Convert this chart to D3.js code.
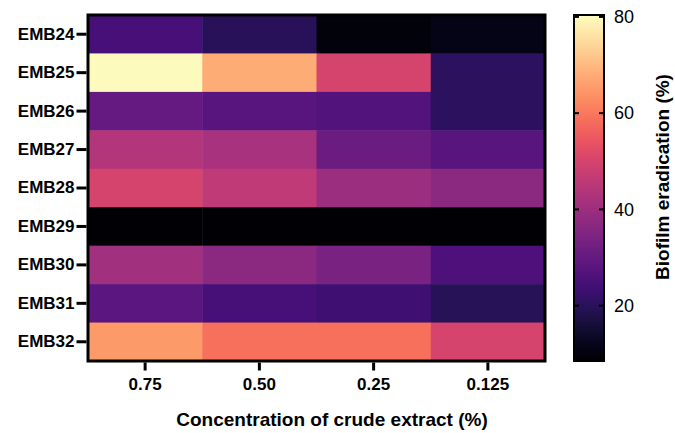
<!DOCTYPE html>
<html>
<head>
    <meta charset="UTF-8">
    <script src="https://d3js.org/d3.v7.min.js"></script>
    <style>
        body { margin: 0; background: #fff; }
        text { font-family: "Liberation Sans", Arial, sans-serif; }
        .axis-y text, .axis-x text { font-size: 17px; font-weight: bold; }
        .cbar text { font-size: 18px; }
    </style>
</head>
<body>
    <svg id="chart" width="675" height="433"></svg>

    <script>
        // data
        const strains = ["EMB24", "EMB25", "EMB26", "EMB27", "EMB28", "EMB29", "EMB30", "EMB31", "EMB32"]
        const concentrations = ["0.75", "0.50", "0.25", "0.125"]
        const eradication = [
            [25, 20, 10, 11.5],
            [80, 68, 50, 20.5],
            [30, 28, 27, 20.5],
            [44, 42, 31, 28],
            [50, 46, 40, 37],
            [9, 9, 9, 9],
            [41, 37, 34, 26],
            [28.5, 25, 23.5, 19.5],
            [65, 59, 59, 50]
        ]
        const colorTicks = [20, 40, 60, 80]
        const colorDomain = [8.5, 80.4]

        let svg = d3.select("#chart")

        let margin = {top: 15, left: 88},
            width = 457,
            height = 346

        let chart = svg.append("g")
            .attr("transform", "translate(" + margin.left + "," + margin.top + ")")

        let xScale = d3.scaleBand()
            .domain(concentrations)
            .range([0, width])
        let yScale = d3.scaleBand()
            .domain(strains)
            .range([0, height])
        let color = d3.scaleSequential(d3.interpolateMagma)
            .domain(colorDomain)

        // cells
        let cells = []
        strains.forEach((s, i) => {
            concentrations.forEach((c, j) => {
                cells.push({strain: s, conc: c, value: eradication[i][j]})
            })
        })

        chart.selectAll("rect.cell")
            .data(cells)
            .join("rect")
            .attr("class", "cell")
            .attr("x", d => xScale(d.conc))
            .attr("y", d => yScale(d.strain))
            .attr("width", xScale.bandwidth() + 0.5)
            .attr("height", yScale.bandwidth() + 0.5)
            .attr("fill", d => color(d.value))

        // frame
        chart.append("rect")
            .attr("x", 0).attr("y", 0)
            .attr("width", width).attr("height", height)
            .attr("fill", "none")
            .attr("stroke", "#000")
            .attr("stroke-width", 3)

        // axes
        let xAxis = chart.append("g")
            .attr("class", "axis-x")
            .attr("transform", "translate(0," + (height + 1.5) + ")")
            .call(d3.axisBottom(xScale).tickSize(8).tickPadding(7))
        let yAxis = chart.append("g")
            .attr("class", "axis-y")
            .attr("transform", "translate(-1.5,0)")
            .call(d3.axisLeft(yScale).tickSize(10).tickPadding(2))

        ;[xAxis, yAxis].forEach(a => {
            a.select(".domain").remove()
            a.selectAll(".tick line").attr("stroke", "#000").attr("stroke-width", 3)
            a.selectAll(".tick text").attr("fill", "#000")
        })

        svg.append("text")
            .attr("x", 332)
            .attr("y", 426)
            .attr("text-anchor", "middle")
            .style("font-size", "19px")
            .style("font-weight", "bold")
            .text("Concentration of crude extract (%)")

        // colour bar
        let cbX = 574, cbW = 30, cbTop = 15, cbBottom = 361
        let cScale = d3.scaleLinear()
            .domain(colorDomain)
            .range([cbBottom, cbTop])

        let defs = svg.append("defs")
        let grad = defs.append("linearGradient")
            .attr("id", "magma")
            .attr("x1", 0).attr("y1", 1)
            .attr("x2", 0).attr("y2", 0)
        d3.range(0, 1.0001, 0.05).forEach(t => {
            grad.append("stop")
                .attr("offset", t)
                .attr("stop-color", d3.interpolateMagma(t))
        })

        let cbar = svg.append("g").attr("class", "cbar")
        cbar.append("rect")
            .attr("x", cbX).attr("y", cbTop)
            .attr("width", cbW).attr("height", cbBottom - cbTop)
            .attr("fill", "url(#magma)")
            .attr("stroke", "#000")
            .attr("stroke-width", 2)

        cbar.selectAll("line.l")
            .data(colorTicks)
            .join("line")
            .attr("class", "l")
            .attr("x1", cbX).attr("x2", cbX + 5)
            .attr("y1", d => cScale(d)).attr("y2", d => cScale(d))
            .attr("stroke", "#000").attr("stroke-width", 2)
        cbar.selectAll("line.r")
            .data(colorTicks)
            .join("line")
            .attr("class", "r")
            .attr("x1", cbX + cbW - 5).attr("x2", cbX + cbW)
            .attr("y1", d => cScale(d)).attr("y2", d => cScale(d))
            .attr("stroke", "#000").attr("stroke-width", 2)
        cbar.selectAll("text")
            .data(colorTicks)
            .join("text")
            .attr("x", 614)
            .attr("y", d => cScale(d))
            .attr("dy", "0.35em")
            .text(d => d)

        svg.append("text")
            .attr("transform", "translate(669,177) rotate(-90)")
            .attr("text-anchor", "middle")
            .style("font-size", "19px")
            .style("font-weight", "bold")
            .text("Biofilm eradication (%)")
    </script>
</body>
</html>
